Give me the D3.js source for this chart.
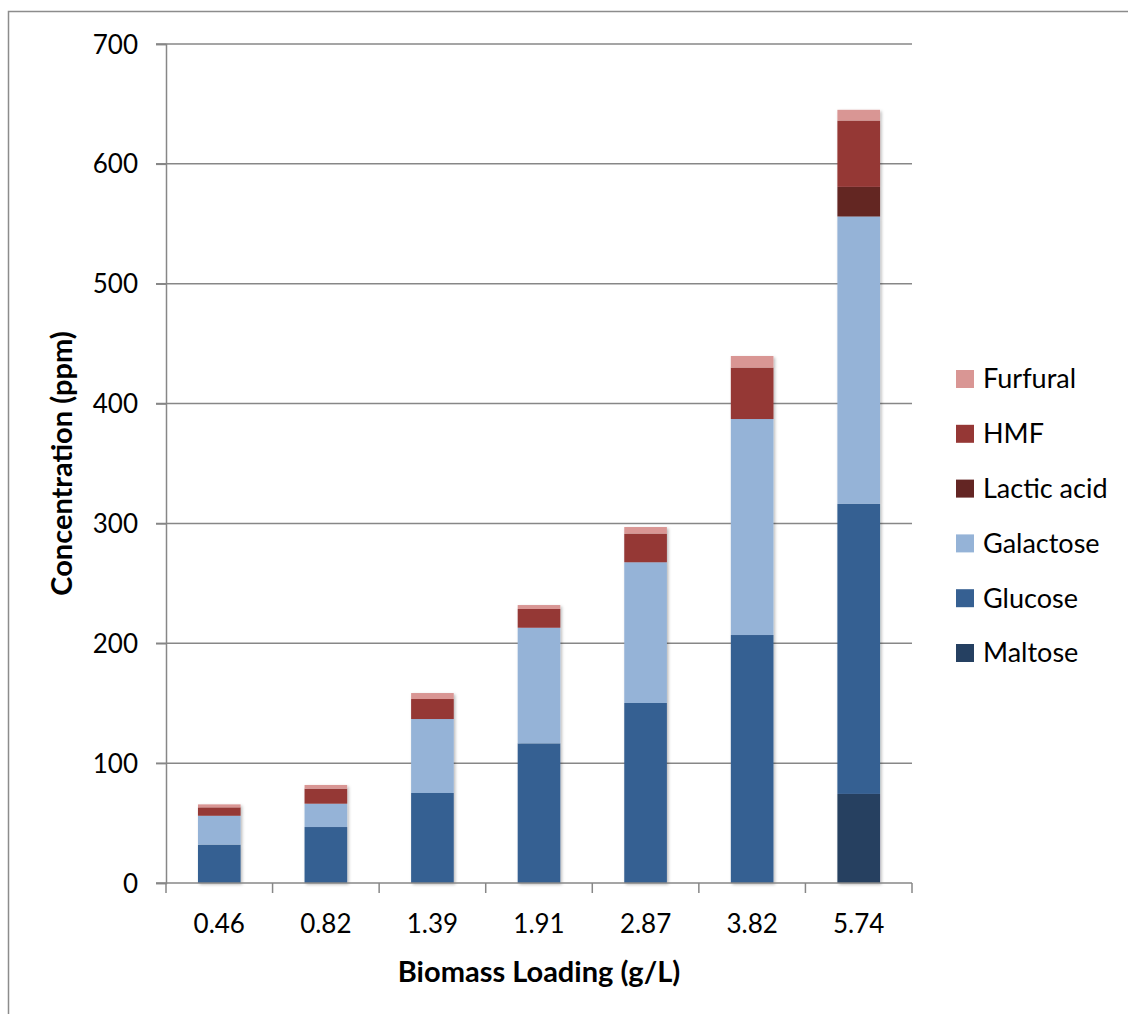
<!DOCTYPE html>
<html>
<head>
<meta charset="utf-8">
<script src="https://cdn.jsdelivr.net/npm/d3@7"></script>
<style>
  html, body { margin: 0; padding: 0; background: #fff; }
  svg { display: block; }
  text { font-family: Lato, "Open Sans", "DejaVu Sans", sans-serif; fill: #000; }
</style>
</head>
<body>
<svg id="chart" width="1128" height="1014"></svg>
<script>
// Biomass loading categories (g/L)
const categories = ["0.46", "0.82", "1.39", "1.91", "2.87", "3.82", "5.74"];

// Concentration of each product (ppm), stacked bottom to top
const maltose   = [0, 0, 0, 0, 0, 0, 74.3];
const glucose   = [32.0, 46.7, 75.1, 116.5, 150.2, 206.9, 242.0];
const galactose = [24.1, 19.5, 61.7, 96.5, 117.4, 180.2, 239.8];
const lacticAcid = [0, 0, 0, 0, 0, 0, 24.7];
const hmf       = [7.0, 12.5, 16.7, 15.6, 23.9, 42.9, 55.3];
const furfural  = [2.5, 3.1, 5.0, 3.3, 5.5, 9.7, 9.0];

const seriesNames = ["Maltose", "Glucose", "Galactose", "Lactic acid", "HMF", "Furfural"];
const seriesValues = [maltose, glucose, galactose, lacticAcid, hmf, furfural];
const seriesColors = ["#254061", "#366092", "#95B3D7", "#632523", "#953735", "#D99694"];

const yTicks = [0, 100, 200, 300, 400, 500, 600, 700];

const svg = d3.select("#chart");

// outer chart frame
svg.append("rect")
  .attr("x", 8.5).attr("y", 11.5)
  .attr("width", 1140).attr("height", 1010)
  .attr("fill", "none").attr("stroke", "#8c8c8c").attr("stroke-width", 1.5);

const plot = { left: 166, right: 912, top: 44, bottom: 883 };

const x = d3.scaleBand()
  .domain(categories)
  .range([plot.left, plot.right])
  .paddingInner(0.6)
  .paddingOuter(0.3);

const y = d3.scaleLinear().domain([0, 700]).range([plot.bottom, plot.top]);

// table for stacking
const rows = categories.map((c, i) => {
  const r = { category: c };
  seriesNames.forEach((s, k) => { r[s] = seriesValues[k][i]; });
  return r;
});
const stacked = d3.stack().keys(seriesNames)(rows);
const color = d3.scaleOrdinal().domain(seriesNames).range(seriesColors);

// soft shadow for bars
const defs = svg.append("defs");
const f = defs.append("filter").attr("id", "shadow")
  .attr("x", "-20%").attr("y", "-5%").attr("width", "140%").attr("height", "110%");
f.append("feDropShadow").attr("dx", 1.5).attr("dy", 1.5).attr("stdDeviation", 1.8)
  .attr("flood-color", "#000").attr("flood-opacity", 0.28);

// gridlines
const grid = svg.append("g");
grid.selectAll("line").data(yTicks.filter(d => d > 0)).join("line")
  .attr("x1", plot.left - 10).attr("x2", plot.right)
  .attr("y1", d => y(d)).attr("y2", d => y(d))
  .attr("stroke", "#878787").attr("stroke-width", 1.5);

// bars
const bars = svg.append("g").attr("filter", "url(#shadow)");
stacked.forEach(layer => {
  bars.append("g").attr("fill", color(layer.key))
    .selectAll("rect").data(layer).join("rect")
    .attr("x", d => x(d.data.category))
    .attr("width", x.bandwidth())
    .attr("y", d => y(d[1]))
    .attr("height", d => Math.max(0, y(d[0]) - y(d[1])));
});

// y axis
const yAxis = d3.axisLeft(y).tickValues(yTicks).tickSize(10).tickPadding(18).tickFormat(d3.format("d"));
const gy = svg.append("g").attr("transform", `translate(${plot.left},0)`).call(yAxis);
gy.select(".domain").attr("stroke", "#878787").attr("stroke-width", 1.5);
gy.selectAll(".tick line").attr("stroke", "#878787").attr("stroke-width", 1.5);
gy.selectAll(".tick text").style("font-size", "26px").attr("dy", "0.35em");

// x axis baseline with category boundary ticks
const gx = svg.append("g");
gx.append("line")
  .attr("x1", plot.left - 10).attr("x2", plot.right)
  .attr("y1", y(0)).attr("y2", y(0))
  .attr("stroke", "#878787").attr("stroke-width", 1.5);
const gap = (x.step() - x.bandwidth()) / 2;
const bounds = categories.map(c => x(c) - gap).concat([plot.right]);
gx.selectAll("line.tk").data(bounds).join("line").attr("class", "tk")
  .attr("x1", d => d).attr("x2", d => d)
  .attr("y1", y(0)).attr("y2", y(0) + 10)
  .attr("stroke", "#878787").attr("stroke-width", 1.5);
gx.selectAll("text").data(categories).join("text")
  .attr("x", d => x(d) + x.bandwidth() / 2)
  .attr("y", 933)
  .attr("text-anchor", "middle")
  .style("font-size", "26px")
  .text(d => d);

// axis titles
svg.append("text")
  .attr("x", (plot.left + plot.right) / 2).attr("y", 982)
  .attr("text-anchor", "middle")
  .style("font-size", "29px").style("font-weight", "bold")
  .text("Biomass Loading (g/L)");
svg.append("text")
  .attr("transform", `translate(72,${(plot.top + plot.bottom) / 2}) rotate(-90)`)
  .attr("text-anchor", "middle")
  .style("font-size", "29px").style("font-weight", "bold")
  .text("Concentration (ppm)");

// legend, top entry is the top of the stack
const legendItems = seriesNames.slice().reverse();
const legend = svg.append("g");
legendItems.forEach((name, i) => {
  const cy = 379 + i * 54.8;
  legend.append("rect")
    .attr("x", 956).attr("y", cy - 9).attr("width", 18).attr("height", 18)
    .attr("fill", color(name));
  legend.append("text")
    .attr("x", 983).attr("y", cy).attr("dy", "0.35em")
    .style("font-size", "27px")
    .text(name);
});
</script>
</body>
</html>
